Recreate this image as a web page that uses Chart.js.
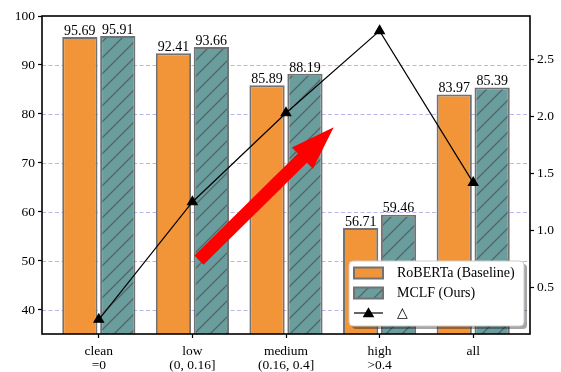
<!DOCTYPE html>
<html>
<head>
<meta charset="utf-8">
<script src="https://cdn.jsdelivr.net/npm/chart.js@4"></script>
<style>
  html, body { margin: 0; padding: 0; background: #fff; }
  #wrap { width: 561px; height: 372px; }
</style>
</head>
<body>
<div id="wrap"><canvas id="chart"></canvas></div>
<script>
// data
const groups = [['clean', '=0'], ['low', '(0, 0.16]'], ['medium', '(0.16, 0.4]'], ['high', '>0.4'], ['all']];
const baseline = [95.69, 92.41, 85.89, 56.71, 83.97];
const ours = [95.91, 93.66, 88.19, 59.46, 85.39];
const delta = [0.22, 1.25, 2.03, 2.75, 1.42];
const leftTicks = [40, 50, 60, 70, 80, 90, 100];
const rightTicks = [0.5, 1.0, 1.5, 2.0, 2.5];

// red arrow annotation (data coords: x index, left axis value)
const arrowFrom = [1.07, 50.2];
const arrowTo = [2.51, 77.3];

const serif = '"Liberation Serif", "DejaVu Serif", serif';
const orange = '#f29539';
const teal = '#6a9e9e';
const edge = '#727272';

function hatch(bg, line) {
    const n = 16;
    const c = document.createElement('canvas');
    c.width = n; c.height = n;
    const g = c.getContext('2d');
    g.fillStyle = bg;
    g.fillRect(0, 0, n, n);
    g.strokeStyle = line;
    g.lineWidth = 1.3;
    g.beginPath();
    g.moveTo(0, n); g.lineTo(n, 0);
    g.moveTo(-n / 2, n / 2); g.lineTo(n / 2, -n / 2);
    g.moveTo(n / 2, n * 1.5); g.lineTo(n * 1.5, n / 2);
    g.stroke();
    return g.createPattern(c, 'repeat');
}
const tealHatch = hatch(teal, '#566464');

const toXY = arr => arr.map((v, i) => ({ x: i, y: v }));

// dashed grid from the left axis
const gridPlugin = {
    id: 'grid',
    beforeDatasetsDraw(chart) {
        const { ctx, chartArea: ca, scales } = chart;
        ctx.save();
        ctx.strokeStyle = 'rgba(165,165,230,0.8)';
        ctx.lineWidth = 1;
        ctx.setLineDash([4, 2.5]);
        leftTicks.forEach(v => {
            const y = Math.round(scales.y.getPixelForValue(v)) + 0.5;
            if (y > ca.bottom || y < ca.top + 1) return;
            ctx.beginPath();
            ctx.moveTo(ca.left, y);
            ctx.lineTo(ca.right, y);
            ctx.stroke();
        });
        ctx.restore();
    }
};

// value labels, arrow, frame, legend
const overlayPlugin = {
    id: 'overlay',
    afterDatasetsDraw(chart) {
        const { ctx, scales } = chart;
        ctx.save();
        // bar labels
        ctx.font = '14px ' + serif;
        ctx.fillStyle = '#000';
        ctx.textAlign = 'center';
        ctx.textBaseline = 'bottom';
        chart.data.datasets.forEach((ds, di) => {
            if (ds.type !== 'bar') return;
            chart.getDatasetMeta(di).data.forEach((bar, i) => {
                ctx.fillText(ds.data[i].y.toFixed(2), bar.x, bar.y + 1);
            });
        });

        // red arrow
        const x0 = scales.x.getPixelForValue(arrowFrom[0]);
        const y0 = scales.y.getPixelForValue(arrowFrom[1]);
        const x1 = scales.x.getPixelForValue(arrowTo[0]);
        const y1 = scales.y.getPixelForValue(arrowTo[1]);
        const len = Math.hypot(x1 - x0, y1 - y0);
        const ux = (x1 - x0) / len, uy = (y1 - y0) / len;
        const px = -uy, py = ux;
        const shaft = 6.5, head = 15, headLen = 44;
        const bx = x1 - ux * headLen, by = y1 - uy * headLen;
        ctx.fillStyle = '#ff0000';
        ctx.beginPath();
        ctx.moveTo(x0 + px * shaft, y0 + py * shaft);
        ctx.lineTo(bx + px * shaft, by + py * shaft);
        ctx.lineTo(bx + px * head, by + py * head);
        ctx.lineTo(x1, y1);
        ctx.lineTo(bx - px * head, by - py * head);
        ctx.lineTo(bx - px * shaft, by - py * shaft);
        ctx.lineTo(x0 - px * shaft, y0 - py * shaft);
        ctx.closePath();
        ctx.fill();
        ctx.restore();
    },
    afterDraw(chart) {
        const { ctx, chartArea: ca } = chart;
        ctx.save();
        // frame
        ctx.strokeStyle = '#000';
        ctx.lineWidth = 1.6;
        ctx.strokeRect(ca.left, ca.top, ca.right - ca.left, ca.bottom - ca.top);

        // legend box
        const w = 175, h = 65;
        const lx = ca.right - 6 - w, ly = ca.bottom - 8 - h;
        ctx.fillStyle = 'rgba(0,0,0,0.35)';
        ctx.beginPath();
        ctx.roundRect(lx + 3, ly + 3, w, h, 4);
        ctx.fill();
        ctx.fillStyle = 'rgba(255,255,255,1)';
        ctx.strokeStyle = '#cccccc';
        ctx.lineWidth = 1;
        ctx.beginPath();
        ctx.roundRect(lx, ly, w, h, 4);
        ctx.fill();
        ctx.stroke();

        const items = chart.data.datasets;
        ctx.font = '14px ' + serif;
        ctx.textAlign = 'left';
        ctx.textBaseline = 'middle';
        items.forEach((ds, i) => {
            const cy = ly + 12 + i * 20;
            const sx = lx + 5;
            if (ds.type === 'bar') {
                ctx.fillStyle = ds.backgroundColor;
                ctx.fillRect(sx, cy - 5.5, 29, 11);
                ctx.strokeStyle = edge;
                ctx.lineWidth = 2;
                ctx.strokeRect(sx, cy - 5.5, 29, 11);
            } else {
                ctx.strokeStyle = '#000';
                ctx.lineWidth = 1.2;
                ctx.beginPath();
                ctx.moveTo(sx, cy);
                ctx.lineTo(sx + 29, cy);
                ctx.stroke();
                Chart.helpers.drawPoint(ctx, {
                    pointStyle: 'triangle', radius: 5.5, borderWidth: 1, rotation: 0
                }, sx + 14.5, cy + 1);
                ctx.fillStyle = '#000';
                ctx.fill();
            }
            ctx.fillStyle = '#000';
            ctx.fillText(ds.label, lx + 48, cy + 0.5);
        });
        ctx.restore();
    }
};

const tickFont = { family: serif, size: 13.5, lineHeight: 1.0 };

new Chart(document.getElementById('chart'), {
    data: {
        datasets: [
            {
                type: 'bar',
                label: 'RoBERTa (Baseline)',
                data: toXY(baseline),
                yAxisID: 'y',
                backgroundColor: orange,
                borderColor: edge,
                borderWidth: 2,
                borderSkipped: false,
                categoryPercentage: 0.81,
                barPercentage: 0.93,
                order: 2
            },
            {
                type: 'bar',
                label: 'MCLF (Ours)',
                data: toXY(ours),
                yAxisID: 'y',
                backgroundColor: tealHatch,
                borderColor: edge,
                borderWidth: 2,
                borderSkipped: false,
                categoryPercentage: 0.81,
                barPercentage: 0.93,
                order: 2
            },
            {
                type: 'line',
                label: '△',
                data: toXY(delta),
                yAxisID: 'y1',
                borderColor: '#000',
                borderWidth: 1.2,
                pointStyle: 'triangle',
                pointRadius: 5.5,
                pointBackgroundColor: '#000',
                pointBorderColor: '#000',
                tension: 0,
                order: 0
            }
        ]
    },
    options: {
        responsive: true,
        maintainAspectRatio: false,
        animation: false,
        layout: { padding: { top: 16, left: 0, right: 0, bottom: 0 } },
        plugins: { legend: { display: false }, tooltip: { enabled: false } },
        scales: {
            x: {
                type: 'linear',
                offset: false,
                min: -0.607,
                max: 4.607,
                afterBuildTicks: s => { s.ticks = groups.map((g, i) => ({ value: i })); },
                afterFit: s => { s.height = 38; },
                ticks: {
                    callback: v => groups[v],
                    font: tickFont,
                    color: '#000',
                    padding: 7,
                    maxRotation: 0,
                    autoSkip: false
                },
                grid: { offset: false, drawOnChartArea: false, tickLength: 4, tickColor: '#000', tickWidth: 1.2 },
                border: { display: false }
            },
            y: {
                position: 'left',
                min: 35.1,
                max: 100,
                afterBuildTicks: s => { s.ticks = leftTicks.map(v => ({ value: v })); },
                afterFit: s => { s.width = 42; },
                ticks: { callback: v => String(v), font: tickFont, color: '#000', padding: 3 },
                grid: { drawOnChartArea: false, tickLength: 4, tickColor: '#000', tickWidth: 1.2 },
                border: { display: false }
            },
            y1: {
                position: 'right',
                min: 0.093,
                max: 2.88,
                afterBuildTicks: s => { s.ticks = rightTicks.map(v => ({ value: v })); },
                afterFit: s => { s.width = 31; },
                ticks: { callback: v => v.toFixed(1), font: tickFont, color: '#000', padding: 3 },
                grid: { drawOnChartArea: false, tickLength: 4, tickColor: '#000', tickWidth: 1.2 },
                border: { display: false }
            }
        }
    },
    plugins: [gridPlugin, overlayPlugin]
});
</script>
</body>
</html>
